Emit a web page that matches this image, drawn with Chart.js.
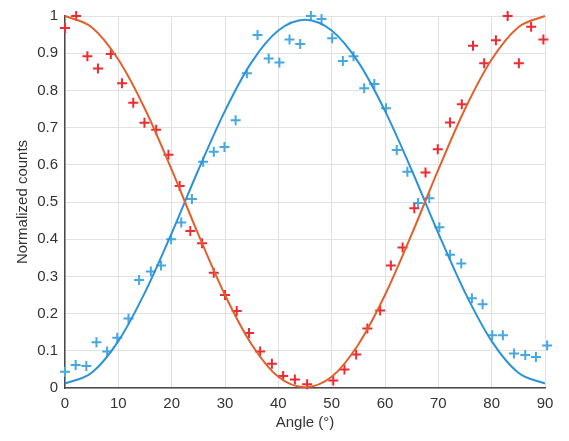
<!DOCTYPE html>
<html>
<head>
<meta charset="utf-8">
<script src="https://cdn.jsdelivr.net/npm/chart.js@4/dist/chart.umd.min.js"></script>
<style>
  html, body { margin: 0; padding: 0; background: #ffffff; }
  #chart { display: block; }
</style>
</head>
<body>
<canvas id="chart" width="569" height="441"></canvas>
<script>
// measured data points (angle in degrees, normalized counts)
const redAngles = [0, 2.1, 4.2, 6.2, 8.6, 10.7, 12.8, 14.9, 17.1, 19.4,
  21.5, 23.5, 25.7, 27.9, 30.0, 32.2, 34.5, 36.6, 38.8, 40.9,
  43.1, 45.4, 50.3, 52.4, 54.6, 56.7, 59.1, 61.1, 63.3, 65.5,
  67.6, 69.9, 72.2, 74.4, 76.5, 78.6, 80.8, 83.0, 85.1, 87.4, 89.7];
const redCounts = [0.968, 1.0, 0.892, 0.859, 0.898, 0.819, 0.767, 0.713, 0.694, 0.627,
  0.543, 0.422, 0.389, 0.31, 0.25, 0.207, 0.148, 0.098, 0.065, 0.032,
  0.023, 0.01, 0.02, 0.05, 0.09, 0.16, 0.208, 0.329, 0.378, 0.483,
  0.579, 0.642, 0.714, 0.763, 0.920, 0.873, 0.935, 1.0, 0.873, 0.971, 0.937];

const blueAngles = [0, 2.0, 4.0, 5.9, 7.9, 9.8, 11.9, 13.9, 16.1, 18.0,
  19.9, 21.8, 23.8, 25.9, 27.9, 29.9, 32.0, 34.1, 36.1, 38.2,
  40.2, 42.1, 44.1, 46.1, 48.1, 50.1, 52.1, 54.1, 56.1, 58.0,
  60.2, 62.2, 64.2, 66.2, 68.3, 70.2, 72.2, 74.3, 76.3, 78.3,
  80.1, 82.1, 84.2, 86.3, 88.3, 90.4];
const blueCounts = [0.044, 0.062, 0.059, 0.123, 0.098, 0.135, 0.187, 0.29, 0.313, 0.329,
  0.40, 0.445, 0.508, 0.608, 0.635, 0.648, 0.72, 0.846, 0.949, 0.886,
  0.875, 0.937, 0.925, 1.0, 0.992, 0.94, 0.879, 0.892, 0.806, 0.817,
  0.752, 0.64, 0.581, 0.497, 0.51, 0.432, 0.358, 0.335, 0.241, 0.225,
  0.142, 0.142, 0.093, 0.089, 0.083, 0.114];

// fitted curves, every 5 degrees
const fitAngles = [0, 5, 10, 15, 20, 25, 30, 35, 40, 45, 50, 55, 60, 65, 70, 75, 80, 85, 90];
const redFit = [1.0, 0.97, 0.883, 0.75, 0.587, 0.413, 0.25, 0.117, 0.03, 0.002,
  0.03, 0.117, 0.25, 0.413, 0.587, 0.75, 0.883, 0.97, 1.0];
const blueFit = [0.012, 0.041, 0.126, 0.257, 0.416, 0.586, 0.745, 0.876, 0.961, 0.99,
  0.961, 0.876, 0.745, 0.586, 0.416, 0.257, 0.126, 0.041, 0.012];

const xTicks = ['0', '10', '20', '30', '40', '50', '60', '70', '80', '90'];
const yTicks = ['0', '0.1', '0.2', '0.3', '0.4', '0.5', '0.6', '0.7', '0.8', '0.9', '1'];

const toXY = (xs, ys) => xs.map((x, i) => ({ x: x, y: ys[i] }));

const RED_CURVE = '#e2602c';
const RED_MARK = '#f02a30';
const BLUE_CURVE = '#2b93d8';
const BLUE_MARK = '#45a8e2';
const FONT = 'Liberation Sans, Arial, sans-serif';

new Chart(document.getElementById('chart'), {
    type: 'scatter',
    data: {
        datasets: [
            {
                label: 'red fit',
                type: 'line',
                data: toXY(fitAngles, redFit),
                borderColor: RED_CURVE,
                borderWidth: 2,
                pointRadius: 0,
                cubicInterpolationMode: 'monotone',
                clip: false
            },
            {
                label: 'blue fit',
                type: 'line',
                data: toXY(fitAngles, blueFit),
                borderColor: BLUE_CURVE,
                borderWidth: 2,
                pointRadius: 0,
                cubicInterpolationMode: 'monotone',
                clip: false
            },
            {
                label: 'red data',
                data: toXY(redAngles, redCounts),
                pointStyle: 'cross',
                pointRadius: 5,
                borderColor: RED_MARK,
                borderWidth: 2,
                clip: false
            },
            {
                label: 'blue data',
                data: toXY(blueAngles, blueCounts),
                pointStyle: 'cross',
                pointRadius: 5,
                borderColor: BLUE_MARK,
                borderWidth: 2,
                clip: false
            }
        ]
    },
    options: {
        responsive: false,
        animation: false,
        layout: { padding: { top: 16, right: 24, left: 0, bottom: 0 } },
        plugins: {
            legend: { display: false },
            tooltip: { enabled: false }
        },
        scales: {
            x: {
                type: 'linear',
                min: 0,
                max: 90,
                afterBuildTicks: (scale) => {
                    scale.ticks = xTicks.map(t => ({ value: Number(t) }));
                },
                afterFit: (scale) => { scale.height = 53; },
                grid: { color: '#e2e2e2', lineWidth: 1, drawTicks: false },
                border: { color: '#4a4a4a', width: 1.5 },
                ticks: {
                    padding: 7,
                    color: '#333333',
                    font: { family: FONT, size: 15 },
                    callback: (v, i) => xTicks[i]
                },
                title: {
                    display: true,
                    text: 'Angle (°)',
                    color: '#333333',
                    font: { family: FONT, size: 15 },
                    padding: { top: 2, bottom: 9 }
                }
            },
            y: {
                min: 0,
                max: 1,
                afterBuildTicks: (scale) => {
                    scale.ticks = yTicks.map(t => ({ value: Number(t) }));
                },
                afterFit: (scale) => { scale.width = 65; },
                grid: { color: '#e2e2e2', lineWidth: 1, drawTicks: false },
                border: { color: '#4a4a4a', width: 1.5 },
                ticks: {
                    padding: 7,
                    color: '#333333',
                    font: { family: FONT, size: 15 },
                    callback: (v, i) => yTicks[i]
                },
                title: {
                    display: true,
                    text: 'Normalized counts',
                    color: '#333333',
                    font: { family: FONT, size: 15 },
                    padding: { top: 14, bottom: 2 }
                }
            }
        }
    }
});
</script>
</body>
</html>
